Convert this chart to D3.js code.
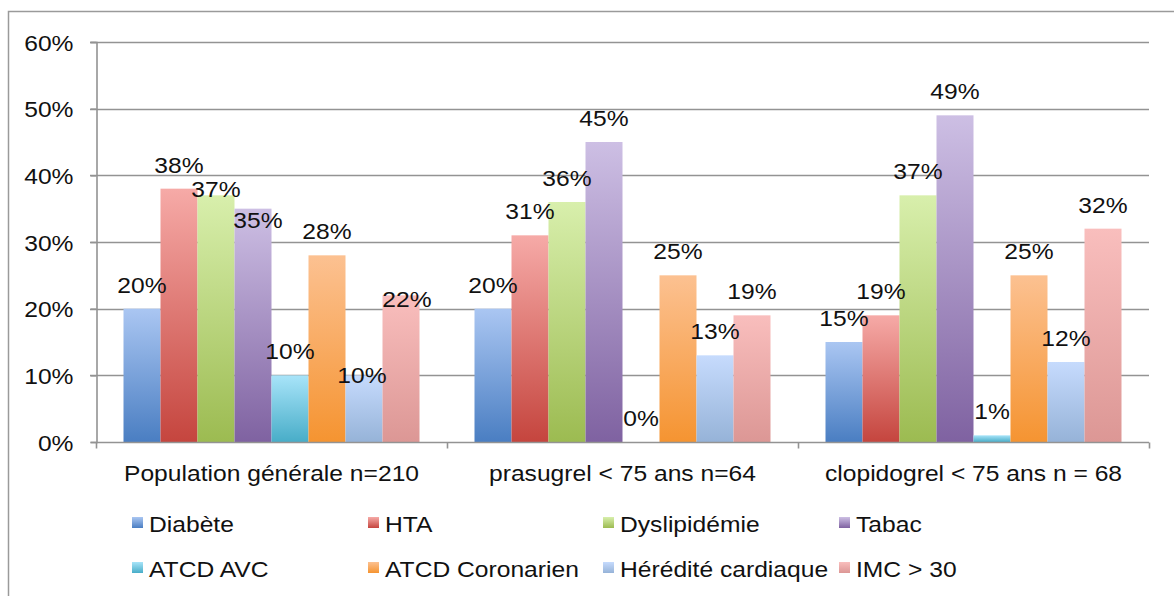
<!DOCTYPE html>
<html>
<head>
<meta charset="utf-8">
<script src="https://cdn.jsdelivr.net/npm/d3@7"></script>
<style>
  html, body { margin: 0; padding: 0; background: #fff; }
  svg { display: block; font-family: "Liberation Sans", Arial, sans-serif; }
</style>
</head>
<body>
<svg id="chart" width="1174" height="596"></svg>
<script>
// Groups shown along the x axis
const groups = ["Population générale n=210", "prasugrel < 75 ans n=64", "clopidogrel < 75 ans n = 68"];

// Risk factors (one bar per factor in each group)
const series = ["Diabète", "HTA", "Dyslipidémie", "Tabac", "ATCD AVC", "ATCD Coronarien", "Hérédité cardiaque", "IMC > 30"];

// Percentages per factor, in group order
const diabete      = [20, 20, 15];
const hta          = [38, 31, 19];
const dyslipidemie = [37, 36, 37];
const tabac        = [35, 45, 49];
const atcdAvc      = [10, 0, 1];
const atcdCoro     = [28, 25, 25];
const heredite     = [10, 13, 12];
const imc          = [22, 19, 32];

// Y axis tick labels
const yTicks = [0, 10, 20, 30, 40, 50, 60];

const values = [diabete, hta, dyslipidemie, tabac, atcdAvc, atcdCoro, heredite, imc];

// Gradient stops (top, bottom) for each factor
const colorTop    = ["#aac6f2", "#f6aaa7", "#d8efac", "#cdbfe4", "#a8e4f9", "#fcc191", "#c6dbfd", "#f9bebd"];
const colorBottom = ["#4a7ec2", "#c5453e", "#9cbb51", "#7f62a1", "#48adc8", "#f59431", "#96b3d8", "#dc9795"];

// Small label nudges where value labels would collide, keyed "group-series" -> [dx, dy]
const labelNudge = {
  "0-2": [0, 18],
  "0-3": [5, 35],
  "0-6": [-2, 24],
  "0-7": [6, 28]
};

const FONT = 22;      // text size
const STRETCH = 1.12; // wide lettering

const svg = d3.select("#chart");

const plot = { left: 96, right: 1149, top: 42, bottom: 442 };

const y = d3.scaleLinear().domain([0, 60]).range([plot.bottom, plot.top]);
const x0 = d3.scaleBand().domain(groups).range([plot.left, plot.right]).padding(0);
const x1 = d3.scaleBand().domain(series)
  .range([27.5, x0.bandwidth() - 27.5]).padding(0);

// Places a text element at (x, y) with the wide lettering
function wideText(sel, fx, fy) {
  return sel
    .attr("x", 0).attr("y", 0)
    .attr("transform", (d, i) => `translate(${fx(d, i)},${fy(d, i)}) scale(${STRETCH},1)`)
    .attr("fill", "#111")
    .style("font-size", FONT + "px");
}

// Gradients
const defs = svg.append("defs");
series.forEach((s, i) => {
  const g = defs.append("linearGradient")
    .attr("id", "grad" + i)
    .attr("x1", 0).attr("y1", 0).attr("x2", 0).attr("y2", 1);
  g.append("stop").attr("offset", "0%").attr("stop-color", colorTop[i]);
  g.append("stop").attr("offset", "100%").attr("stop-color", colorBottom[i]);
});

// Outer frame
svg.append("path")
  .attr("d", "M8.5,600 V11.5 H1180")
  .attr("fill", "none")
  .attr("stroke", "#9a9a9a")
  .attr("stroke-width", 1.5);

// Gridlines
svg.append("g")
  .selectAll("line")
  .data(yTicks.filter(t => t > 0))
  .join("line")
  .attr("x1", plot.left - 6)
  .attr("x2", plot.right)
  .attr("y1", d => Math.round(y(d)) + 0.5)
  .attr("y2", d => Math.round(y(d)) + 0.5)
  .attr("stroke", "#939393")
  .attr("stroke-width", 1.6);

// Y axis
const yAxis = d3.axisLeft(y)
  .tickValues(yTicks)
  .tickSize(6)
  .tickFormat(d => d + "%");

const gy = svg.append("g")
  .attr("transform", `translate(${plot.left + 0.5},0)`)
  .call(yAxis);
gy.select(".domain").attr("stroke", "#939393").attr("stroke-width", 1.6);
gy.selectAll(".tick line").attr("stroke", "#939393").attr("stroke-width", 1.6);
gy.selectAll(".tick text")
  .attr("dy", null)
  .call(wideText, () => -23, () => 8);

// Bars
const gGroups = svg.append("g")
  .selectAll("g")
  .data(groups)
  .join("g")
  .attr("transform", d => `translate(${x0(d)},0)`);

gGroups.selectAll("rect")
  .data((g, gi) => series.map((s, si) => ({ s, si, gi, v: values[si][gi] })))
  .join("rect")
  .attr("x", d => x1(d.s))
  .attr("width", x1.bandwidth())
  .attr("y", d => y(d.v))
  .attr("height", d => y(0) - y(d.v))
  .attr("fill", d => `url(#grad${d.si})`);

// X axis baseline with group separators
const xAxis = d3.axisBottom(x0).tickSize(0).tickFormat("");
const gx = svg.append("g")
  .attr("transform", `translate(0,${plot.bottom + 0.5})`)
  .call(xAxis);
gx.select(".domain").remove();
gx.append("line")
  .attr("x1", plot.left).attr("x2", plot.right)
  .attr("stroke", "#939393").attr("stroke-width", 1.6);
gx.selectAll(".sep")
  .data([plot.left, ...groups.map(g => x0(g) + x0.bandwidth())])
  .join("line")
  .attr("class", "sep")
  .attr("x1", d => d + 0.5).attr("x2", d => d + 0.5)
  .attr("y1", 0).attr("y2", 6)
  .attr("stroke", "#939393").attr("stroke-width", 1.6);

// Group labels
svg.append("g")
  .selectAll("text")
  .data(groups)
  .join("text")
  .attr("text-anchor", "middle")
  .call(wideText, d => x0(d) + x0.bandwidth() / 2, () => 481)
  .text(d => d);

// Value labels
const nudge = d => labelNudge[d.gi + "-" + d.si] || [0, 0];
gGroups.selectAll("text.val")
  .data((g, gi) => series.map((s, si) => ({ s, si, gi, v: values[si][gi] })))
  .join("text")
  .attr("class", "val")
  .attr("text-anchor", "middle")
  .call(wideText,
    d => x1(d.s) + x1.bandwidth() / 2 + nudge(d)[0],
    d => y(d.v) - 16 + nudge(d)[1])
  .text(d => d.v + "%");

// Legend: 4 columns x 2 rows
const legendCols = [132, 368, 603, 839];
const legendRows = [532, 577];
const legend = svg.append("g")
  .selectAll("g")
  .data(series)
  .join("g")
  .attr("transform", (d, i) => `translate(${legendCols[i % 4]},${legendRows[Math.floor(i / 4)]})`);

legend.append("rect")
  .attr("x", 0).attr("y", -15)
  .attr("width", 11).attr("height", 11)
  .attr("fill", (d, i) => `url(#grad${i})`);

legend.append("text")
  .call(wideText, () => 17, () => 0)
  .text(d => d);
</script>
</body>
</html>
